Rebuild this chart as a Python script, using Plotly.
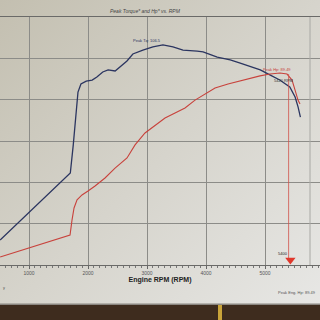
import base64
import plotly.graph_objects as go

# ---- data ----
rpm_tq = [510, 1700, 1750, 1800, 1830, 1880, 1970, 2070, 2150, 2250, 2340, 2460, 2540, 2660,
          2760, 2930, 3100, 3270, 3440, 3610, 3850, 3950, 4190, 4410, 4580, 4920, 5090, 5250,
          5420, 5510, 5560, 5600]
torque = [12.1, 44.5, 58.1, 72.6, 83.7, 87.6, 89.0, 89.5, 91.0, 93.4, 94.4, 93.9, 95.8, 98.7,
          102.1, 104.0, 105.5, 106.5, 105.5, 104.0, 103.5, 103.1, 100.6, 99.2, 97.7, 94.4, 91.9,
          89.5, 86.1, 81.3, 76.5, 71.6]
rpm_hp = [510, 1695, 1729, 1763, 1814, 1898, 2000, 2119, 2288, 2458, 2661, 2797, 2966, 3136,
          3305, 3475, 3644, 3814, 3983, 4153, 4373, 4576, 4746, 4915, 5085, 5254, 5373, 5458,
          5508, 5559, 5593]
hp = [3.9, 14.5, 21.8, 27.6, 31.5, 33.9, 35.8, 38.2, 42.1, 46.9, 51.8, 58.1, 63.9, 67.7,
      71.1, 73.5, 76.0, 79.8, 82.7, 85.6, 87.6, 89.0, 90.5, 91.5, 92.4, 92.9, 92.4, 89.5,
      84.7, 79.8, 77.9]
marker_rpm = [5400, 5400]
marker_val = [92.4, 2.0]
tri_rpm = [5430]
tri_val = [2.4]
x_ticks = [1000, 2000, 3000, 4000, 5000]
x_tick_labels = ["1000", "2000", "3000", "4000", "5000"]
y_grid = [0, 20, 40, 60, 80, 100, 120]

# ---- geometry ----
W, H = 320, 320
ml, mr, mt, mb = 0, 0, 17, 55
pw, ph = W - ml - mr, H - mt - mb

def py(px):  # figure pixel y -> paper y
    return (H - mb - px) / ph

def pxx(px):
    return (px - ml) / pw

svg = f'''<svg xmlns="http://www.w3.org/2000/svg" width="320" height="320">
<defs><linearGradient id="g" x1="0" y1="0" x2="1" y2="1">
<stop offset="0" stop-color="#c3bfb0"/><stop offset="0.5" stop-color="#d6d4cc"/>
<stop offset="1" stop-color="#e8e8e6"/></linearGradient></defs>
<rect width="320" height="320" fill="url(#g)"/></svg>'''
src = "data:image/svg+xml;base64," + base64.b64encode(svg.encode()).decode()

fig = go.Figure()
fig.add_trace(go.Scatter(x=rpm_tq, y=torque, mode="lines",
                         line=dict(color="#2b3560", width=1.3), hoverinfo="skip"))
fig.add_trace(go.Scatter(x=rpm_hp, y=hp, mode="lines",
                         line=dict(color="#c8423c", width=1.1), hoverinfo="skip"))
fig.add_trace(go.Scatter(x=marker_rpm, y=marker_val, mode="lines",
                         line=dict(color="#d0504a", width=0.8), hoverinfo="skip"))
fig.add_trace(go.Scatter(x=tri_rpm, y=tri_val, mode="markers",
                         marker=dict(symbol="triangle-down", size=9, color="#e0382c"),
                         hoverinfo="skip", cliponaxis=False))

font = "Liberation Sans, Arial, sans-serif"
fig.update_layout(
    width=W, height=H, margin=dict(l=ml, r=mr, t=mt, b=mb),
    paper_bgcolor="#d8d6ce", plot_bgcolor="rgba(0,0,0,0)",
    showlegend=False, font=dict(family=font),
    xaxis=dict(range=[508, 5932], tickvals=x_ticks, ticktext=x_tick_labels,
               showgrid=True, gridcolor="#8c8c88", gridwidth=1,
               showline=True, linecolor="#6a6a68", linewidth=1, mirror=True,
               ticks="outside", ticklen=3, tickcolor="#666",
               tickfont=dict(size=5, color="#555"),
               minor=dict(dtick=100, ticks="outside", ticklen=2, tickcolor="#777", showgrid=False),
               zeroline=False,
               title=dict(text="<b>Engine RPM (RPM)</b>", font=dict(size=7, color="#222"),
                          standoff=0)),
    yaxis=dict(range=[0, 120], tickvals=y_grid, showticklabels=False,
               showgrid=True, gridcolor="#8c8c88", gridwidth=1, zeroline=False,
               showline=False),
    images=[dict(source=src, xref="paper", yref="paper", x=pxx(0), y=py(0),
                 sizex=W / pw, sizey=H / ph, xanchor="left", yanchor="top",
                 sizing="stretch", layer="below")],
    shapes=[
        dict(type="line", xref="paper", yref="paper", x0=pxx(310), x1=pxx(310), y0=0, y1=1,
             line=dict(color="#a8a8a4", width=1)),
        dict(type="rect", xref="paper", yref="paper", x0=pxx(0), x1=pxx(320),
             y0=py(320), y1=py(305), fillcolor="#3e2c1e", line=dict(width=0)),
        dict(type="rect", xref="paper", yref="paper", x0=pxx(0), x1=pxx(320),
             y0=py(305), y1=py(303.5), fillcolor="#8a8680", line=dict(width=0)),
        dict(type="rect", xref="paper", yref="paper", x0=pxx(218), x1=pxx(222),
             y0=py(320), y1=py(305), fillcolor="#c9a43a", line=dict(width=0)),
    ],
    annotations=[
        dict(text="<i>Peak Torque* and Hp* vs. RPM</i>", xref="paper", yref="paper",
             x=pxx(145), y=py(11), yanchor="middle", showarrow=False,
             font=dict(size=5, color="#444")),
        dict(text="Peak Tq: 106.5", xref="x", yref="y", x=3000, y=106.5, yshift=4,
             showarrow=False, font=dict(size=4, color="#2b3560")),
        dict(text="Peak Hp: 89.49", xref="x", yref="y", x=5200, y=92.9, yshift=4,
             showarrow=False, font=dict(size=4, color="#c8423c")),
        dict(text="5420 RPM", xref="x", yref="y", x=5320, y=88.5, yshift=2,
             showarrow=False, font=dict(size=4, color="#333")),
        dict(text="5400", xref="x", yref="y", x=5300, y=5.5, showarrow=False,
             font=dict(size=4, color="#222")),
        dict(text="Peak Eng. Hp: 89.49", xref="paper", yref="paper",
             x=pxx(318), y=py(292), xanchor="right", yanchor="middle", showarrow=False,
             font=dict(size=4, color="#555")),
        dict(text="y", xref="paper", yref="paper", x=pxx(1), y=py(287), xanchor="left",
             yanchor="middle", showarrow=False, font=dict(size=4, color="#555")),
    ],
)

fig.write_html("out.html")
